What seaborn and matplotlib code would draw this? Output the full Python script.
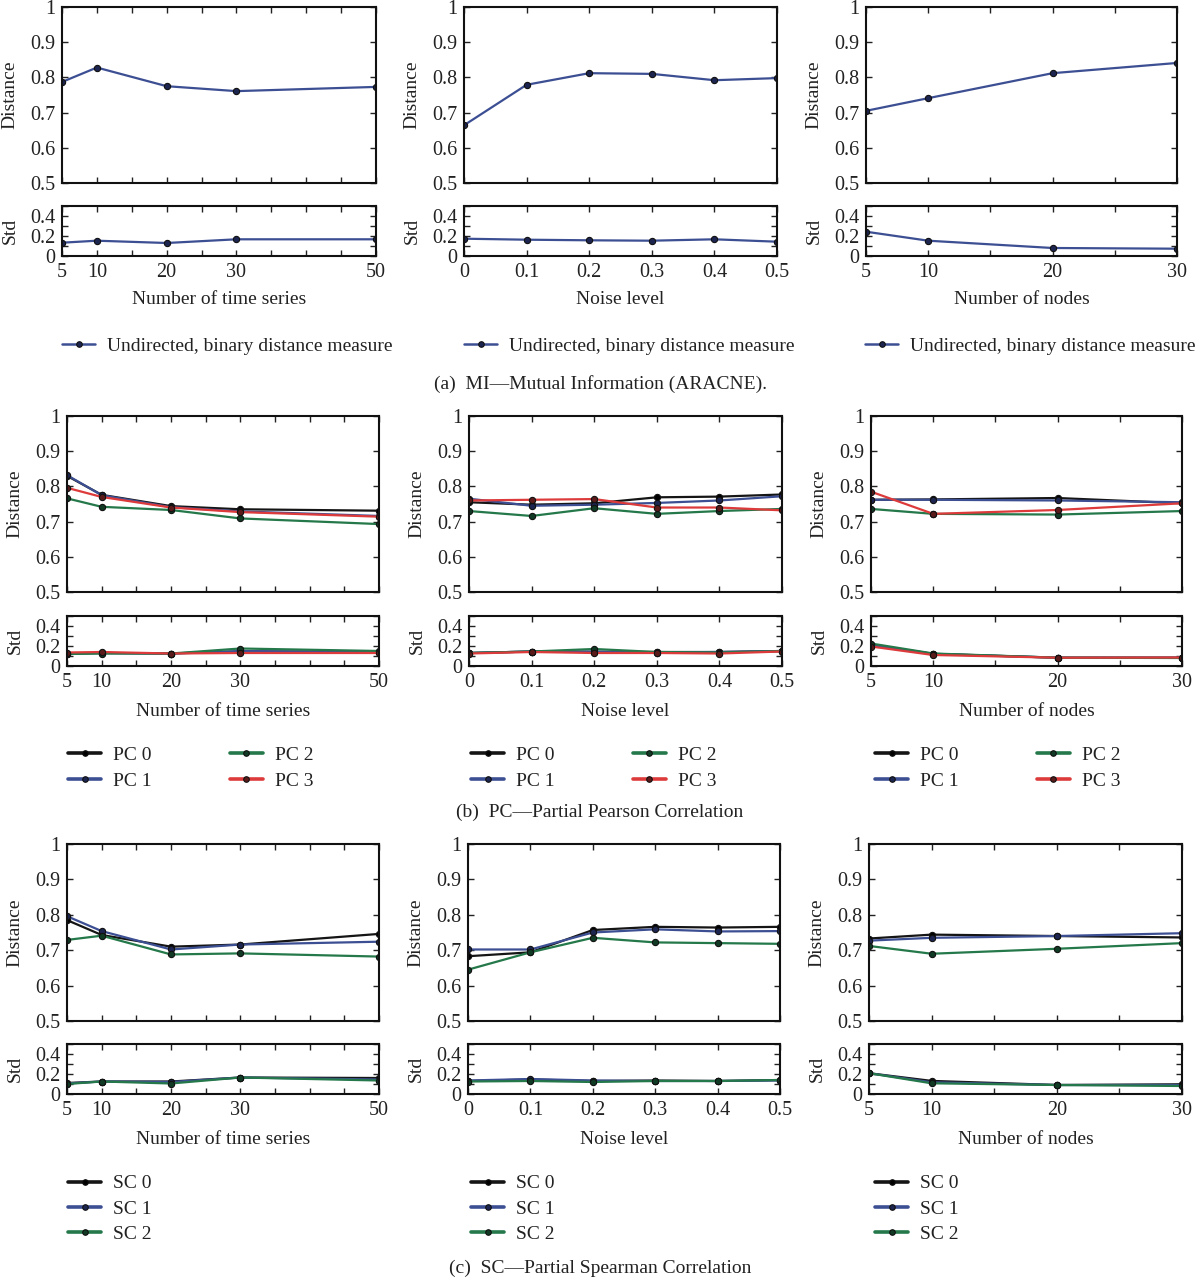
import numpy as np
import pandas as pd
import matplotlib
matplotlib.use("Agg")
import matplotlib.pyplot as plt
from matplotlib.lines import Line2D
import seaborn as sns

# x-axis values
time_series = [5, 10, 20, 30, 50]
noise_levels = [0, 0.1, 0.2, 0.3, 0.4, 0.5]
num_nodes = [5, 10, 20, 30]

# (a) MI - one series per panel
mi_label = "Undirected, binary distance measure"
mi_dist_ts = [0.787, 0.828, 0.775, 0.761, 0.773]
mi_std_ts = [0.133, 0.153, 0.130, 0.167, 0.167]
mi_dist_noise = [0.664, 0.779, 0.812, 0.810, 0.792, 0.798]
mi_std_noise = [0.173, 0.163, 0.157, 0.153, 0.167, 0.143]
mi_dist_nodes = [0.705, 0.741, 0.812, 0.841]
mi_std_nodes = [0.243, 0.153, 0.080, 0.073]

# (b) PC - Partial Pearson Correlation
pc_labels = ["PC 0", "PC 1", "PC 2", "PC 3"]
pc_dist_ts = [
    [0.830, 0.776, 0.744, 0.735, 0.731],
    [0.832, 0.775, 0.741, 0.729, 0.716],
    [0.766, 0.742, 0.733, 0.709, 0.693],
    [0.796, 0.770, 0.740, 0.727, 0.714],
]
pc_std_ts = [
    [0.125, 0.130, 0.125, 0.145, 0.140],
    [0.125, 0.130, 0.125, 0.150, 0.140],
    [0.120, 0.125, 0.125, 0.175, 0.150],
    [0.135, 0.140, 0.125, 0.130, 0.130],
]
pc_dist_noise = [
    [0.755, 0.748, 0.752, 0.769, 0.771, 0.777],
    [0.765, 0.745, 0.748, 0.753, 0.760, 0.772],
    [0.730, 0.716, 0.738, 0.722, 0.730, 0.736],
    [0.760, 0.762, 0.764, 0.740, 0.740, 0.732],
]
pc_std_noise = [
    [0.130, 0.145, 0.140, 0.140, 0.140, 0.150],
    [0.130, 0.145, 0.145, 0.135, 0.140, 0.150],
    [0.130, 0.145, 0.170, 0.140, 0.135, 0.150],
    [0.125, 0.140, 0.130, 0.130, 0.125, 0.145],
]
pc_dist_nodes = [
    [0.762, 0.763, 0.767, 0.752],
    [0.762, 0.762, 0.760, 0.755],
    [0.736, 0.722, 0.720, 0.730],
    [0.785, 0.722, 0.733, 0.752],
]
pc_std_nodes = [
    [0.210, 0.122, 0.083, 0.083],
    [0.210, 0.120, 0.083, 0.083],
    [0.225, 0.125, 0.083, 0.080],
    [0.195, 0.110, 0.083, 0.085],
]

# (c) SC - Partial Spearman Correlation
sc_labels = ["SC 0", "SC 1", "SC 2"]
sc_dist_ts = [
    [0.785, 0.743, 0.710, 0.716, 0.746],
    [0.796, 0.754, 0.702, 0.716, 0.724],
    [0.729, 0.741, 0.688, 0.691, 0.682],
]
sc_std_ts = [
    [0.110, 0.125, 0.125, 0.165, 0.160],
    [0.105, 0.125, 0.120, 0.165, 0.145],
    [0.100, 0.125, 0.105, 0.165, 0.135],
]
sc_dist_noise = [
    [0.683, 0.694, 0.757, 0.766, 0.764, 0.766],
    [0.702, 0.702, 0.750, 0.759, 0.753, 0.754],
    [0.645, 0.694, 0.735, 0.722, 0.720, 0.718],
]
sc_std_noise = [
    [0.130, 0.145, 0.130, 0.135, 0.130, 0.140],
    [0.135, 0.150, 0.135, 0.130, 0.130, 0.135],
    [0.125, 0.130, 0.120, 0.130, 0.130, 0.140],
]
sc_dist_nodes = [
    [0.733, 0.744, 0.740, 0.736],
    [0.727, 0.735, 0.740, 0.748],
    [0.712, 0.690, 0.704, 0.720],
]
sc_std_nodes = [
    [0.208, 0.131, 0.090, 0.097],
    [0.208, 0.117, 0.090, 0.090],
    [0.208, 0.107, 0.090, 0.080],
]

colors = ["#151515", "#3d4f93", "#24784a", "#dd3b3b"]
dark = ["#000000", "#1c2450", "#103a24", "#5a1a1a"]

sns.set_style("ticks")
plt.rcParams["font.family"] = ["Liberation Serif", "DejaVu Serif"]
FS = 14

W, H = 1200, 1279
fig = plt.figure(figsize=(W / 100, H / 100), dpi=100)


def px_axes(l, t, r, b):
    return fig.add_axes([l / W, 1 - b / H, (r - l) / W, (b - t) / H])


def fmt(v):
    return "%g" % v


# x-axis setups: values, tick positions, labelled ticks, label
x_setups = {
    "ts": (time_series, list(range(5, 51, 5)), [5, 10, 20, 30, 50], "Number of time series"),
    "noise": (noise_levels, noise_levels, noise_levels, "Noise level"),
    "nodes": (num_nodes, list(range(5, 31, 5)), [5, 10, 20, 30], "Number of nodes"),
}


def style(ax):
    ax.tick_params(direction="in", top=True, right=True, length=4, width=1,
                   labelsize=FS + 0.5, colors="#222222", pad=5)
    for sp in ax.spines.values():
        sp.set_linewidth(1.5)
        sp.set_color("#111111")


def draw_series(ax, x, series, idx):
    for vals, i in zip(series, idx):
        sns.lineplot(x=x, y=vals, ax=ax, color=colors[i], linewidth=1.6,
                     marker="o", markersize=4.5, markerfacecolor=dark[i],
                     markeredgecolor="#111111", markeredgewidth=0.8,
                     estimator=None, sort=False, legend=False)


def panel(cols, rows, kind, dist, std, idx, xgap):
    l, r = cols
    dt, db, st, sb = rows
    x, ticks, labelled, xlabel = x_setups[kind]
    ax1 = px_axes(l, dt, r, db)
    ax2 = px_axes(l, st, r, sb)
    draw_series(ax1, x, dist, idx)
    draw_series(ax2, x, std, idx)
    for ax in (ax1, ax2):
        ax.set_xlim(x[0], x[-1])
        ax.set_xticks(ticks)
        style(ax)
    ax1.set_xticklabels([])
    ax2.set_xticklabels([fmt(t) if t in labelled else "" for t in ticks])
    ax1.set_ylim(0.5, 1)
    ax1.set_yticks([0.5, 0.6, 0.7, 0.8, 0.9, 1.0])
    ax1.set_yticklabels(["0.5", "0.6", "0.7", "0.8", "0.9", "1"])
    ax2.set_ylim(0, 0.5)
    ax2.set_yticks([0, 0.1, 0.2, 0.3, 0.4, 0.5])
    ax2.set_yticklabels(["0", "", "0.2", "", "0.4", ""])
    ax1.set_xlabel("")
    ax1.set_ylabel("Distance", fontsize=FS, color="#222222")
    ax2.set_ylabel("Std", fontsize=FS, color="#222222")
    ax2.set_xlabel(xlabel, fontsize=FS, color="#222222")
    for ax in (ax1, ax2):
        ax.yaxis.set_label_coords(-0.166, 0.5)
        ax.yaxis.label.set_va("center")
    ax2.xaxis.set_label_coords(0.5, -xgap / (sb - st))
    ax2.xaxis.label.set_va("center")
    return ax1, ax2


def handle(i, lw=1.8):
    return Line2D([], [], color=colors[i], linewidth=lw, marker="o", markersize=4,
                  markerfacecolor=dark[i], markeredgecolor="#111111",
                  markeredgewidth=0.8)


def add_legend(x_px, y_px, handles, labels, ncol=1, spacing=0.35, colspace=3.9):
    fig.legend(handles, labels, loc="center left",
               bbox_to_anchor=(x_px / W, 1 - y_px / H), bbox_transform=fig.transFigure,
               frameon=False, fontsize=FS, ncol=ncol, handlelength=1.7,
               handletextpad=0.62, borderpad=0, borderaxespad=0,
               labelspacing=spacing, columnspacing=colspace, labelcolor="#222222")


# Row (a)
rows_a = (7, 183, 206, 256)
cols_a = [(62, 376), (464, 777), (866, 1177)]
panel(cols_a[0], rows_a, "ts", [mi_dist_ts], [mi_std_ts], [1], 44)
panel(cols_a[1], rows_a, "noise", [mi_dist_noise], [mi_std_noise], [1], 44)
panel(cols_a[2], rows_a, "nodes", [mi_dist_nodes], [mi_std_nodes], [1], 44)
for lx in (62, 464, 865):
    add_legend(lx, 346, [handle(1)], [mi_label])
fig.text(0.5, 1 - 384 / H, "(a)  MI\u2014Mutual Information (ARACNE).",
         ha="center", va="center", fontsize=FS, color="#222222")

# Row (b)
rows_b = (416, 592, 616, 666)
cols_b = [(67, 379), (469, 782), (871, 1182)]
pc_idx = [0, 1, 2, 3]
panel(cols_b[0], rows_b, "ts", pc_dist_ts, pc_std_ts, pc_idx, 46)
panel(cols_b[1], rows_b, "noise", pc_dist_noise, pc_std_noise, pc_idx, 46)
panel(cols_b[2], rows_b, "nodes", pc_dist_nodes, pc_std_nodes, pc_idx, 46)
for lx in (68, 471, 875):
    add_legend(lx, 768, [handle(i, 2.6) for i in pc_idx], pc_labels, ncol=2,
               spacing=0.45, colspace=4.0)
fig.text(0.5, 1 - 812 / H, "(b)  PC\u2014Partial Pearson Correlation",
         ha="center", va="center", fontsize=FS, color="#222222")

# Row (c)
rows_c = (844, 1021, 1044, 1094)
cols_c = [(67, 379), (468, 780), (869, 1182)]
sc_idx = [0, 1, 2]
panel(cols_c[0], rows_c, "ts", sc_dist_ts, sc_std_ts, sc_idx, 46)
panel(cols_c[1], rows_c, "noise", sc_dist_noise, sc_std_noise, sc_idx, 46)
panel(cols_c[2], rows_c, "nodes", sc_dist_nodes, sc_std_nodes, sc_idx, 46)
for lx in (68, 471, 875):
    add_legend(lx, 1209, [handle(i, 2.6) for i in sc_idx], sc_labels,
               spacing=0.4)
fig.text(0.5, 1 - 1268 / H, "(c)  SC\u2014Partial Spearman Correlation",
         ha="center", va="center", fontsize=FS, color="#222222")

fig.savefig("out.png", dpi=100)
